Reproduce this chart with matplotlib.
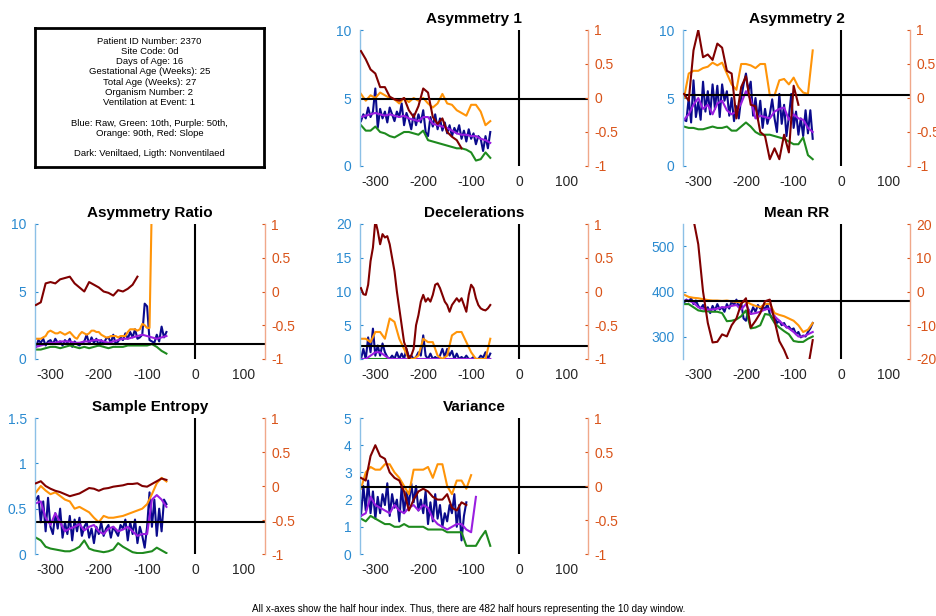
import numpy as np
import matplotlib
matplotlib.use("Agg")
import matplotlib.pyplot as plt

plt.rcParams["font.family"] = ["Liberation Sans", "DejaVu Sans"]

# ---- Asymmetry 1 ----
asym1_raw = [3.3, 3.8, 3.5, 4.3, 3.6, 4.0, 5.7, 2.8, 4.2, 3.5,
             4.0, 3.2, 4.3, 3.8, 3.3, 4.0, 3.6, 4.6, 3.0, 3.9,
             3.4, 2.7, 3.8, 3.0, 3.8, 3.2, 4.1, 2.5, 2.2, 3.6,
             2.9, 3.8, 2.7, 3.5, 2.6, 3.2, 2.4, 3.0, 2.2, 2.8,
             2.4, 3.0, 2.0, 2.6, 1.8, 2.7, 2.0, 2.4, 1.6, 2.2,
             2.0, 1.1, 2.2, 1.3, 2.5]
asym1_p10 = [3.0, 2.6, 2.6, 2.9, 2.5, 2.4, 2.2, 2.1, 2.3, 2.5, 2.5, 2.4, 2.3, 2.6,
             1.9, 1.8, 1.7, 1.6, 1.5, 1.4, 1.3, 1.3, 1.2, 1.0, 0.4, 0.5, 1.0, 0.6]
asym1_p50 = [3.6, 3.7, 3.8, 3.9, 3.8, 3.7, 3.8, 3.7, 3.6, 3.7, 3.5, 3.4, 3.3, 3.6,
             3.6, 3.1, 3.0, 2.9, 2.8, 2.6, 2.4, 2.3, 2.3, 2.2, 2.2, 2.0, 1.9, 1.7]
asym1_p90 = [5.3, 4.8, 5.2, 5.0, 5.4, 5.2, 5.0, 4.9, 4.6, 5.0, 4.7, 5.0, 4.8, 5.0,
             4.6, 4.3, 4.6, 5.3, 4.6, 4.5, 4.1, 3.9, 3.7, 4.5, 4.5, 4.0, 3.0, 3.3]
asym1_slope = [0.69, 0.57, 0.42, 0.36, 0.16, 0.16, 0.02, -0.02, -0.04, 0.0, -0.18,
               -0.28, -0.12, 0.14, 0.08, -0.28, -0.38, -0.30, -0.50, -0.57, -0.62, -0.74]

# ---- Asymmetry 2 ----
asym2_raw = [3.4, 3.3, 5.0, 3.2, 6.3, 3.6, 4.7, 3.4, 6.2, 4.0,
             5.5, 3.8, 6.0, 4.2, 5.9, 3.6, 6.0, 4.8, 5.5, 3.7,
             5.0, 3.3, 4.4, 3.5, 5.0, 6.0, 6.8, 5.5, 6.2, 3.7,
             5.0, 3.4, 4.8, 2.8, 4.2, 3.1, 3.8, 4.9, 3.5, 2.5,
             5.3, 3.1, 4.5, 2.2, 3.6, 5.3, 2.8, 4.0, 2.3, 3.5,
             2.2, 4.1, 2.4, 4.1, 2.0]
asym2_p10 = [2.9, 2.8, 2.8, 2.7, 2.7, 2.8, 2.9, 2.8, 2.8, 2.9, 2.6, 2.6, 2.9, 3.2,
             2.9, 2.5, 2.3, 2.3, 2.3, 2.2, 2.1, 2.0, 1.8, 1.6, 1.6, 2.1, 0.8, 0.5]
asym2_p50 = [3.4, 3.8, 4.5, 5.0, 4.2, 4.5, 3.8, 4.6, 4.8, 4.1, 3.8, 4.0, 4.6, 5.5,
             4.9, 3.5, 3.7, 3.6, 3.5, 4.0, 4.2, 4.3, 3.4, 3.8, 3.5, 3.4, 2.8, 2.5]
asym2_p90 = [5.0, 6.8, 7.0, 7.0, 7.2, 7.3, 7.6, 7.4, 7.6, 6.8, 6.0, 5.6, 7.5, 7.5,
             7.4, 7.2, 7.5, 7.5, 5.2, 5.2, 6.3, 6.4, 6.0, 6.5, 5.8, 5.4, 5.3, 8.5]
asym2_slope = [0.06, -0.04, 0.70, 1.00, 0.60, 0.64, 0.56, 0.80, 0.74, 0.40, 0.36,
               -0.30, 0.16, 0.32, -0.10, -0.12, -0.50, -0.56, -0.90, -0.74, -0.90,
               -0.54, -0.80, 0.18, -0.10]

# ---- Asymmetry Ratio ----
aratio_raw = [0.9, 1.4, 1.2, 1.5, 1.0, 1.3, 1.4, 1.1, 1.5, 1.2,
              1.3, 1.0, 1.4, 1.2, 1.5, 0.9, 1.3, 1.1, 1.0, 1.2,
              1.3, 1.8, 1.1, 1.6, 1.2, 1.5, 1.0, 1.4, 1.1, 1.5,
              1.6, 1.2, 1.8, 1.1, 1.3, 1.6, 1.4, 1.9, 1.5, 2.0,
              1.6, 2.2, 1.5, 1.6, 1.8, 4.1, 3.9, 1.4, 1.3, 1.2,
              1.8, 1.3, 2.4, 1.6, 2.0]
aratio_p10 = [0.7, 0.7, 0.8, 0.9, 0.9, 0.8, 0.9, 1.0, 0.9, 0.8, 0.9, 0.8, 0.9, 1.0,
              0.9, 0.8, 0.9, 0.9, 0.9, 1.0, 1.0, 1.0, 1.0, 1.0, 1.1, 0.9, 0.6, 0.4]
aratio_p50 = [0.9, 1.0, 1.1, 1.2, 1.2, 1.3, 1.3, 1.3, 1.2, 1.2, 1.3, 1.3, 1.4, 1.4,
              1.3, 1.2, 1.3, 1.4, 1.5, 1.5, 1.6, 1.7, 1.8, 1.7, 1.6, 1.5, 1.6, 1.7]
aratio_p90 = [1.5, 1.5, 1.5, 1.6, 1.7, 2.0, 2.1, 2.0, 1.9, 1.9,
              2.0, 1.9, 1.8, 1.9, 2.0, 1.8, 1.6, 1.5, 1.8, 2.0,
              1.9, 1.8, 1.9, 2.1, 2.1, 2.0, 2.0, 1.8, 1.7, 1.6,
              1.6, 1.7, 1.7, 1.7, 1.6, 1.7, 1.7, 1.7, 2.0, 2.2,
              2.2, 2.2, 2.1, 2.2, 2.6, 2.5, 2.3, 2.3, 12.0]
aratio_slope = [-0.20, -0.16, 0.12, 0.14, 0.12, 0.18, 0.20, 0.22, 0.12, 0.06, 0.00,
                0.14, 0.10, 0.06, 0.00, -0.02, -0.06, 0.02, 0.00, 0.04, 0.10, 0.22]

# ---- Decelerations ----
decel_raw = [0.0, 1.5, 0.0, 3.2, 1.0, 4.5, 0.5, 2.0, 0.5, 2.3,
             1.0, 0.3, 0.0, 0.5, 0.0, 1.0, 0.0, 0.8, 0.0, 1.5,
             0.3, 0.5, 0.0, 0.3, 1.0, 0.5, 3.5, 0.5, 0.0, 0.8,
             0.0, 0.3, 0.0, 0.5, 1.5, 0.3, 1.5, 0.5, 1.2, 0.0,
             0.8, 0.0, 0.3, 0.0, 0.5, 0.0, 0.0, 0.3, 0.0, 0.0,
             0.5, 0.2, 1.0, 0.0, 0.8]
decel_p10 = [0.0] * 28
decel_p50 = [0.0, 0.0, 0.5, 1.0, 1.0, 0.5, 0.0, 0.0, 0.0, 0.0, 0.0, 0.0, 0.0, 0.0,
             0.0, 0.0, 0.0, 0.0, 0.0, 0.0, 0.0, 0.0, 0.0, 0.0, 0.0, 0.0, 0.0, 0.0]
decel_p90 = [3.0, 3.0, 2.5, 4.0, 4.0, 3.0, 6.0, 5.5, 3.0, 1.5, 0.0, 0.0, 0.5, 3.0,
             2.5, 2.5, 0.5, 0.0, 0.5, 3.5, 4.0, 4.0, 2.5, 1.0, 0.0, 0.0, 0.0, 3.0]
decel_slope = [0.05, -0.04, -0.05, 0.10, 0.45, 0.65, 1.05, 0.90, 0.70, 0.85,
               0.80, 0.82, 0.70, 0.50, 0.30, 0.00, -0.25, -0.50, -0.75, -0.85,
               -1.00, -0.95, -0.85, -0.50, -0.35, -0.15, -0.05, -0.15, -0.10, -0.15,
               -0.05, 0.10, 0.12, 0.05, -0.05, -0.15, -0.20, -0.30, -0.20, -0.15,
               -0.10, -0.15, -0.10, -0.20, -0.30, -0.05, 0.10, 0.05, -0.10, -0.20,
               -0.25, -0.27, -0.28, -0.25, -0.20]

# ---- Mean RR ----
mrr_raw = [375, 382, 378, 385, 372, 380, 368, 362, 370, 358,
           365, 352, 368, 358, 372, 360, 365, 355, 372, 362,
           378, 370, 382, 365, 375, 340, 335, 360, 350, 365,
           355, 370, 362, 368, 360, 372, 350, 340, 345, 330,
           335, 325, 330, 320, 322, 315, 318, 305, 310, 298,
           302, 300, 310, 318, 330]
mrr_p10 = [372, 372, 365, 358, 356, 356, 355, 355, 352, 334, 335, 338, 345, 358,
           318, 320, 325, 350, 348, 330, 320, 312, 305, 290, 288, 288, 295, 300]
mrr_p50 = [380, 380, 375, 365, 362, 360, 360, 362, 365, 365, 368, 370, 360, 372,
           350, 352, 355, 360, 362, 345, 335, 325, 318, 310, 300, 300, 305, 310]
mrr_p90 = [393, 388, 386, 385, 383, 381, 380, 380, 379, 380, 378, 377, 376, 378,
           372, 368, 365, 372, 373, 352, 348, 345, 340, 335, 325, 310, 315, 330]
mrr_slope = [33.0, 26.7, 21.3, 14.0, 0.0, -9.3, -15.1, -14.9, -12.7, -13.3, -10.0,
             -8.0, -3.7, -2.0, -10.7, -8.7, -6.4, -2.9, -2.4, -8.7, -14.7, -17.3,
             -20.7, -24.0, -25.3, -24.7, -22.7, -14.4]

# ---- Sample Entropy ----
se_raw = [0.60, 0.64, 0.35, 0.58, 0.25, 0.62, 0.30, 0.22, 0.45, 0.28,
          0.50, 0.18, 0.35, 0.22, 0.42, 0.15, 0.38, 0.25, 0.40, 0.20,
          0.30, 0.35, 0.18, 0.28, 0.12, 0.30, 0.22, 0.35, 0.20, 0.28,
          0.32, 0.18, 0.30, 0.25, 0.20, 0.32, 0.28, 0.38, 0.15, 0.35,
          0.22, 0.38, 0.12, 0.30, 0.20, 0.07, 0.30, 0.68, 0.30, 0.60,
          0.20, 0.50, 0.25, 0.60, 0.55]
se_p10 = [0.18, 0.15, 0.08, 0.06, 0.05, 0.04, 0.03, 0.03, 0.05, 0.08, 0.15, 0.06, 0.04, 0.03,
          0.02, 0.03, 0.05, 0.12, 0.08, 0.05, 0.02, 0.01, 0.01, 0.02, 0.03, 0.07, 0.04, 0.01]
se_p50 = [0.56, 0.58, 0.40, 0.32, 0.45, 0.35, 0.25, 0.28, 0.30, 0.33, 0.26, 0.30, 0.32, 0.25,
          0.22, 0.28, 0.30, 0.25, 0.27, 0.30, 0.25, 0.20, 0.22, 0.22, 0.60, 0.65, 0.60, 0.52]
se_p90 = [0.68, 0.75, 0.70, 0.66, 0.68, 0.64, 0.60, 0.58, 0.50, 0.52, 0.49, 0.46, 0.40, 0.35,
          0.42, 0.40, 0.40, 0.41, 0.42, 0.44, 0.46, 0.48, 0.50, 0.55, 0.66, 0.78, 0.84, 0.80]
se_slope = [0.04, 0.07, 0.00, -0.04, -0.07, -0.09, -0.12, -0.15, -0.13, -0.11, -0.07, -0.03,
            -0.04, -0.07, -0.04, -0.03, -0.01, 0.00, 0.01, 0.03, 0.03, 0.04, 0.00, -0.01,
            0.03, 0.07, 0.11, 0.09]

# ---- Variance ----
var_raw = [1.4, 2.5, 1.6, 2.7, 1.5, 2.3, 1.3, 2.1, 1.5, 2.2,
           1.8, 2.6, 1.4, 2.2, 1.7, 2.0, 1.2, 2.5, 1.5, 2.3,
           1.8, 2.6, 1.9, 2.5, 1.6, 2.0, 1.5, 2.3, 1.1, 1.9,
           1.2, 2.2, 1.3, 1.8, 1.0, 1.5, 1.2, 1.8, 1.5, 2.2,
           1.0, 1.8, 0.5, 1.4, 1.9]
var_p10 = [1.3, 1.2, 1.4, 1.3, 1.2, 1.1, 1.1, 1.0, 1.0, 1.1, 1.0, 1.0, 1.0, 1.0,
           0.9, 0.9, 0.9, 0.9, 0.8, 0.8, 0.8, 0.8, 0.3, 0.3, 0.3, 0.6, 0.85, 0.3]
var_p50 = [1.4, 1.5, 2.1, 1.8, 1.7, 1.6, 1.5, 1.8, 1.6, 1.5, 1.7, 1.8, 1.6, 1.8,
           1.7, 1.3, 1.1, 1.0, 0.9, 1.0, 1.1, 1.1, 0.9, 0.8, 2.1]
var_p90 = [2.4, 3.0, 3.2, 3.1, 3.1, 3.3, 3.3, 3.0, 2.8, 2.5, 2.2, 3.1, 3.1, 3.1,
           3.2, 2.8, 3.3, 3.3, 2.5, 2.2, 2.7, 2.7, 2.4, 2.9]
var_slope = [0.12, 0.08, 0.44, 0.60, 0.44, 0.40, 0.20, 0.12, 0.08, -0.08, -0.36, -0.20,
             -0.08, -0.04, -0.08, -0.16, -0.20, -0.20, -0.12, -0.32, -0.36, -0.24, -0.28]

titles = ["Asymmetry 1", "Asymmetry 2", "Asymmetry Ratio", "Decelerations",
          "Mean RR", "Sample Entropy", "Variance"]
baselines = [4.9, 5.2, 1.1, 2.0, 380, 0.355, 2.45]
left_ticks = [[0, 5, 10], [0, 5, 10], [0, 5, 10], [0, 5, 10, 15, 20],
              [300, 400, 500], [0, 0.5, 1, 1.5], [0, 1, 2, 3, 4, 5]]
left_lims = [(0, 10), (0, 10), (0, 10), (0, 20), (250, 550), (0, 1.5), (0, 5)]
right_ticks = [[-1, -0.5, 0, 0.5, 1]] * 4 + [[-20, -10, 0, 10, 20]] + [[-1, -0.5, 0, 0.5, 1]] * 2
x_ticks = [-300, -200, -100, 0, 100]

# (series, x step) per panel: raw, 10th, 50th, 90th, slope
panel_data = [
    [(asym1_raw, 5), (asym1_p10, 10), (asym1_p50, 10), (asym1_p90, 10), (asym1_slope, 10)],
    [(asym2_raw, 5), (asym2_p10, 10), (asym2_p50, 10), (asym2_p90, 10), (asym2_slope, 10)],
    [(aratio_raw, 5), (aratio_p10, 10), (aratio_p50, 10), (aratio_p90, 5), (aratio_slope, 10)],
    [(decel_raw, 5), (decel_p10, 10), (decel_p50, 10), (decel_p90, 10), (decel_slope, 5)],
    [(mrr_raw, 5), (mrr_p10, 10), (mrr_p50, 10), (mrr_p90, 10), (mrr_slope, 10)],
    [(se_raw, 5), (se_p10, 10), (se_p50, 10), (se_p90, 10), (se_slope, 10)],
    [(var_raw, 5), (var_p10, 10), (var_p50, 10), (var_p90, 10), (var_slope, 10)],
]
line_colors = ["#0a0a8c", "#1e8a1e", "#9a1ee0", "#ff9408", "#800000"]
LEFT_C = "#2a8ad0"
RIGHT_C = "#d95319"

W, H = 937, 616
fig = plt.figure(figsize=(W / 100, H / 100), dpi=100)


def px_axes(x0, y0, x1, y1):
    return fig.add_axes([x0 / W, 1 - y1 / H, (x1 - x0) / W, (y1 - y0) / H])


cols = [(35, 265), (360, 588), (683, 910)]
rows = [(30, 166), (224, 359), (418, 554)]
slots = [(0, 1), (0, 2), (1, 0), (1, 1), (1, 2), (2, 0), (2, 1)]

for i, (r, c) in enumerate(slots):
    ax = px_axes(cols[c][0], rows[r][0], cols[c][1], rows[r][1])
    ax2 = ax.twinx()
    x_start = -330
    for k, (vals, step) in enumerate(panel_data[i]):
        xs = x_start + step * np.arange(len(vals))
        target = ax2 if k == 4 else ax
        target.plot(xs, vals, color=line_colors[k], lw=1.5)
    ax.axhline(baselines[i], color="k", lw=1.5)
    ax.axvline(0, color="k", lw=1.5)

    ax.set_xlim(-332, 144)
    ax.set_ylim(*left_lims[i])
    ax.set_xticks(x_ticks)
    ax.set_xticklabels([str(v) for v in x_ticks])
    ax.set_yticks(left_ticks[i])
    ax.set_yticklabels([f"{v:g}" for v in left_ticks[i]])
    rt = right_ticks[i]
    ax2.set_ylim(rt[0], rt[-1])
    ax2.set_yticks(rt)
    ax2.set_yticklabels([f"{v:g}" for v in rt])

    for a in (ax, ax2):
        a.spines["top"].set_visible(False)
        a.spines["bottom"].set_visible(False)
    ax.spines["right"].set_visible(False)
    ax2.spines["left"].set_visible(False)
    ax.spines["left"].set_color("#8cc0e6")
    ax.spines["left"].set_linewidth(1.0)
    ax2.spines["right"].set_color("#f0a88a")
    ax2.spines["right"].set_linewidth(1.0)

    ax.tick_params(axis="x", length=0, labelsize=10, colors="#262626", pad=6.5)
    ax.tick_params(axis="y", direction="in", length=2, labelsize=10,
                   colors=LEFT_C, pad=6)
    ax2.tick_params(axis="y", direction="in", length=2, labelsize=10,
                    colors=RIGHT_C, pad=4.5)
    ax.set_title(titles[i], fontsize=11, fontweight="bold", pad=5)

# patient info box
info = px_axes(35, 28, 264, 167)
info.set_xticks([])
info.set_yticks([])
for s in info.spines.values():
    s.set_linewidth(2)
    s.set_color("black")
info_text = ("Patient ID Number: 2370\n"
             "Site Code: 0d\n"
             "Days of Age: 16\n"
             "Gestational Age (Weeks): 25\n"
             "Total Age (Weeks): 27\n"
             "Organism Number: 2\n"
             "Ventilation at Event: 1\n"
             "\n"
             "Blue: Raw, Green: 10th, Purple: 50th,\n"
             "Orange: 90th, Red: Slope\n"
             "\n"
             "Dark: Veniltaed, Ligth: Nonventilaed")
info.text(0.5, 0.5, info_text, ha="center", va="center", fontsize=6.8,
          linespacing=1.18, transform=info.transAxes)

fig.text(0.5, 1 - 609 / H,
         "All x-axes show the half hour index. Thus, there are 482 half hours "
         "representing the 10 day window.",
         ha="center", va="center", fontsize=7.1)

fig.savefig("out.png", dpi=100)
